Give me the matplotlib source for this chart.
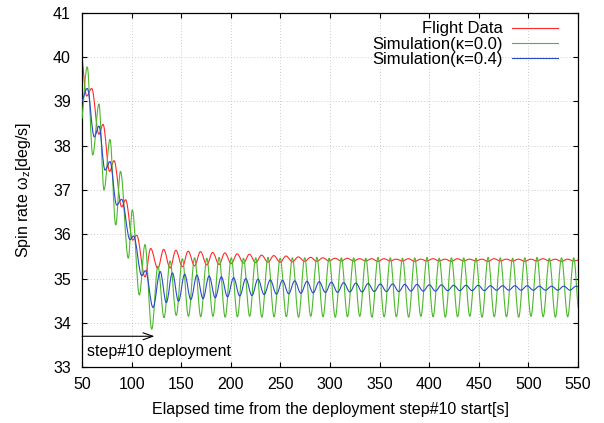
import matplotlib
matplotlib.use('Agg')
import matplotlib.pyplot as plt
from matplotlib.path import Path
from matplotlib.patches import PathPatch
from matplotlib.lines import Line2D

plt.rcParams['font.family'] = ['Liberation Sans', 'DejaVu Sans']
plt.rcParams['mathtext.fontset'] = 'custom'
plt.rcParams['mathtext.rm'] = 'Liberation Sans'
plt.rcParams['mathtext.it'] = 'Liberation Sans:italic'

# turning points of each trace: elapsed time [s] and spin rate [deg/s]
flight_t = [50.0, 54.7, 59.8, 67.0, 71.2, 77.8, 82.3, 90.0, 94.0, 101.1, 105.1, 113.5, 119.2,
            126.4, 132.3, 138.8, 144.6, 151.2, 157.0, 163.5, 169.4, 175.8, 181.7, 188.2, 194.0,
            200.5, 206.4, 212.8, 218.7, 225.1, 231.0, 237.5, 243.3, 249.8, 255.7, 262.1, 268.0,
            274.5, 280.4, 286.8, 292.7, 299.1, 305.0, 311.5, 317.4, 323.8, 329.7, 336.1, 342.0,
            348.4, 354.3, 360.8, 366.7, 373.1, 379.0, 385.4, 391.3, 397.8, 403.7, 410.1, 416.0,
            422.4, 428.3, 434.8, 440.6, 447.1, 453.0, 459.4, 465.3, 471.7, 477.6, 484.1, 490.0,
            496.4, 502.3, 508.7, 514.6, 521.1, 527.0, 533.4, 539.3, 545.7, 550.0]
flight_w = [40.00, 39.12, 39.29, 38.26, 38.48, 37.42, 37.66, 36.62, 36.78, 35.87, 35.98, 35.04, 35.68,
            35.23, 35.66, 35.24, 35.64, 35.27, 35.62, 35.29, 35.61, 35.31, 35.59, 35.32, 35.58,
            35.34, 35.56, 35.35, 35.55, 35.36, 35.53, 35.37, 35.52, 35.37, 35.51, 35.38, 35.49,
            35.39, 35.48, 35.39, 35.47, 35.40, 35.46, 35.40, 35.46, 35.40, 35.45, 35.40, 35.45,
            35.39, 35.45, 35.40, 35.44, 35.40, 35.45, 35.39, 35.44, 35.40, 35.45, 35.40, 35.44,
            35.39, 35.45, 35.40, 35.44, 35.40, 35.44, 35.39, 35.45, 35.40, 35.44, 35.40, 35.44,
            35.39, 35.44, 35.40, 35.45, 35.40, 35.44, 35.39, 35.44, 35.40, 35.42]

sim00_t = [50.0, 55.3, 60.8, 67.1, 72.2, 78.2, 84.0, 88.8, 96.7, 100.7, 107.8, 113.5, 120.3,
           126.5, 132.7, 138.8, 145.0, 151.2, 157.3, 163.5, 169.7, 175.8, 182.0, 188.2, 194.3,
           200.5, 206.7, 212.8, 219.0, 225.1, 231.3, 237.5, 243.6, 249.8, 256.0, 262.1, 268.3,
           274.5, 280.6, 286.8, 293.0, 299.1, 305.3, 311.5, 317.6, 323.8, 330.0, 336.1, 342.3,
           348.4, 354.6, 360.8, 366.9, 373.1, 379.3, 385.4, 391.6, 397.8, 403.9, 410.1, 416.3,
           422.4, 428.6, 434.8, 440.9, 447.1, 453.3, 459.4, 465.6, 471.7, 477.9, 484.1, 490.2,
           496.4, 502.6, 508.7, 514.9, 521.1, 527.2, 533.4, 539.6, 545.7, 550.0]
sim00_w = [38.60, 39.78, 37.79, 38.94, 37.00, 38.14, 36.21, 37.42, 35.46, 36.55, 34.63, 35.77, 33.86,
           35.28, 34.12, 35.40, 34.17, 35.45, 34.15, 35.47, 34.14, 35.46, 34.15, 35.48, 34.13,
           35.47, 34.14, 35.46, 34.15, 35.47, 34.13, 35.48, 34.14, 35.46, 34.14, 35.47, 34.13,
           35.47, 34.15, 35.48, 34.14, 35.46, 34.13, 35.47, 34.14, 35.47, 34.15, 35.46, 34.13,
           35.48, 34.14, 35.47, 34.14, 35.46, 34.13, 35.47, 34.15, 35.48, 34.14, 35.46, 34.13,
           35.47, 34.14, 35.47, 34.15, 35.46, 34.13, 35.48, 34.14, 35.47, 34.14, 35.46, 34.13,
           35.47, 34.15, 35.48, 34.14, 35.46, 34.13, 35.47, 34.14, 35.47, 34.35]

sim04_t = [50.0, 55.3, 62.4, 67.1, 73.2, 78.2, 85.0, 90.0, 98.4, 102.0, 110.2, 114.0, 121.6,
           128.8, 135.0, 141.1, 147.3, 153.5, 159.7, 165.8, 172.0, 178.1, 184.3, 190.5, 196.7,
           202.8, 209.0, 215.1, 221.3, 227.4, 233.6, 239.8, 246.0, 252.1, 258.3, 264.4, 270.6,
           276.8, 283.0, 289.1, 295.3, 301.4, 307.6, 313.8, 320.0, 326.1, 332.3, 338.4, 344.6,
           350.7, 356.9, 363.1, 369.3, 375.4, 381.6, 387.7, 393.9, 400.1, 406.3, 412.4, 418.6,
           424.7, 430.9, 437.1, 443.3, 449.4, 455.6, 461.7, 467.9, 474.0, 480.2, 486.4, 492.6,
           498.7, 504.9, 511.0, 517.2, 523.4, 529.6, 535.7, 541.9, 548.0, 550.0]
sim04_w = [38.99, 39.29, 38.20, 38.44, 37.45, 37.64, 36.66, 36.79, 35.88, 35.96, 35.07, 35.18, 34.35,
           35.16, 34.46, 35.13, 34.49, 35.10, 34.53, 35.08, 34.55, 35.06, 34.57, 35.04, 34.59,
           35.02, 34.61, 35.00, 34.62, 34.99, 34.64, 34.97, 34.65, 34.96, 34.66, 34.95, 34.67,
           34.94, 34.68, 34.93, 34.69, 34.92, 34.69, 34.91, 34.70, 34.90, 34.70, 34.89, 34.71,
           34.88, 34.71, 34.88, 34.71, 34.87, 34.72, 34.87, 34.72, 34.86, 34.72, 34.86, 34.73,
           34.85, 34.73, 34.85, 34.73, 34.85, 34.73, 34.84, 34.74, 34.84, 34.74, 34.84, 34.74,
           34.84, 34.74, 34.83, 34.74, 34.83, 34.74, 34.83, 34.74, 34.83, 34.82]

labels = ['Flight Data', 'Simulation(κ=0.0)', 'Simulation(κ=0.4)']
colors = ['#ff2a2a', '#4cb82c', '#2a48cc']


def wave(ts, ws):
    """smooth path through turning points: flat tangent at every peak/valley,
    straight tangent at the two free ends"""
    verts = [(ts[0], ws[0])]
    codes = [Path.MOVETO]
    n = len(ts)
    for i in range(n - 1):
        t0, w0, t1, w1 = ts[i], ws[i], ts[i + 1], ws[i + 1]
        dt = t1 - t0
        if i == 0:
            c1 = (t0 + dt / 3, w0 + (w1 - w0) / 3)
        else:
            c1 = (t0 + 0.36 * dt, w0)
        if i == n - 2:
            c2 = (t1 - dt / 3, w1 - (w1 - w0) / 3)
        else:
            c2 = (t1 - 0.36 * dt, w1)
        verts += [c1, c2, (t1, w1)]
        codes += [Path.CURVE4] * 3
    return Path(verts, codes)


fig = plt.figure(figsize=(6.04, 4.23), dpi=100)
ax = fig.add_axes([82 / 604, 1 - 367.3 / 423, 496 / 604, 354.6 / 423])

series = [(flight_t, flight_w), (sim00_t, sim00_w), (sim04_t, sim04_w)]
for z, ((ts, ws), c) in enumerate(zip(series, colors)):
    ax.add_patch(PathPatch(wave(ts, ws), fill=False, edgecolor=c, lw=0.8,
                           zorder=2 + z, clip_on=True))

ax.set_xlim(50, 550)
ax.set_ylim(33, 41)
ax.set_xticks(range(50, 551, 50))
ax.set_yticks(range(33, 42))
ax.grid(True, color='#bcbcbc', lw=0.6, ls=(0, (1, 2.5)))
ax.set_axisbelow(True)
ax.tick_params(direction='in', length=3.5, width=0.8, top=True, right=True,
               labelsize=11.5)
ax.tick_params(axis='x', pad=7)
ax.tick_params(axis='y', pad=8)
for s in ax.spines.values():
    s.set_linewidth(0.9)

ax.set_xlabel('Elapsed time from the deployment step#10 start[s]', fontsize=11.5)
ax.set_ylabel('Spin rate ω$_\\mathrm{z}$[deg/s]', fontsize=11.5)
ax.xaxis.set_label_coords(0.5, -0.097)
ax.yaxis.set_label_coords(-0.098, 0.5)

# deployment marker
ax.annotate('', xy=(123, 33.7), xytext=(50, 33.7),
            arrowprops=dict(arrowstyle='->,head_length=0.7,head_width=0.25',
                            lw=0.8, color='black', shrinkA=0, shrinkB=0))
ax.text(55.5, 33.36, 'step#10 deployment', fontsize=11.5, va='center', ha='left')

handles = [Line2D([], [], color=c, lw=0.8) for c in colors]
ax.legend(handles, labels, loc='upper right', markerfirst=False, frameon=False,
          fontsize=12, handlelength=2.75, handletextpad=0.6, labelspacing=0.02,
          borderpad=0, borderaxespad=0,
          bbox_to_anchor=(558.3 / 604, 1 - 21.5 / 423),
          bbox_transform=fig.transFigure)

fig.savefig('out.png', dpi=100)
